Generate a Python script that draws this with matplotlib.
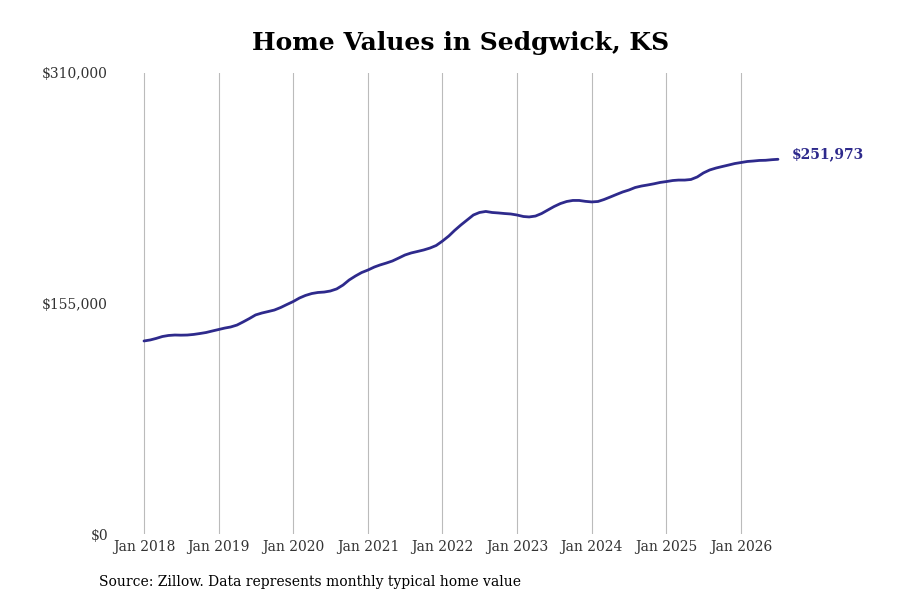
import pandas as pd
import matplotlib
matplotlib.use("Agg")
import matplotlib.pyplot as plt
import matplotlib.dates as mdates
from matplotlib.ticker import FuncFormatter

# monthly typical home value, Jan 2018 - Jul 2026
start_month = "2018-01-01"
home_values = [
    129800, 130500, 131500, 132800, 133500, 133800, 133700, 133800, 134200, 134800, 135500, 136500,
    137500, 138500, 139200, 140500, 142600, 144900, 147300, 148600, 149600, 150600, 152300, 154300,
    156300, 158700, 160400, 161700, 162400, 162700, 163400, 164800, 167400, 170800, 173500, 175800,
    177500, 179500, 180900, 182200, 183600, 185600, 187600, 189000, 190000, 191000, 192300, 194000,
    197000, 200400, 204100, 207800, 211100, 214500, 216200, 216900, 216200, 215900, 215500, 215200,
    214500, 213500, 213200, 213800, 215500, 217900, 220200, 222200, 223600, 224300, 224300, 223700,
    223300, 223600, 224900, 226600, 228300, 230000, 231300, 233000, 234000, 234700, 235500, 236400,
    237000, 237700, 238000, 238000, 238400, 240100, 242800, 244800, 246100, 247100, 248100, 249100,
    249800, 250500, 250800, 251200, 251300, 251700, 251973,
]
y_ticks = [0, 155000, 310000]
tick_years = list(range(2018, 2027))

dates = pd.date_range(start_month, periods=len(home_values), freq="MS")
line_color = "#2e2a8c"

plt.rcParams["font.family"] = ["DejaVu Serif"]

fig = plt.figure(figsize=(9, 6), dpi=100)
ax = fig.add_axes([115 / 900, 66 / 600, 675 / 900, 461 / 600])

ax.plot(dates, home_values, color=line_color, lw=2.0, solid_capstyle="round")

# x range so Jan 2018 sits at ~144px and Jan 2026 at ~741px
px_per_day = (741 - 144) / (pd.Timestamp("2026-01-01") - pd.Timestamp("2018-01-01")).days
x0 = pd.Timestamp("2018-01-01") - pd.Timedelta(days=(144 - 115) / px_per_day)
x1 = pd.Timestamp("2018-01-01") + pd.Timedelta(days=(790 - 144) / px_per_day)
ax.set_xlim(x0, x1)
ax.set_ylim(y_ticks[0], y_ticks[-1])

ax.set_xticks([pd.Timestamp(f"{y}-01-01") for y in tick_years])
ax.xaxis.set_major_formatter(mdates.DateFormatter("Jan %Y"))
ax.set_yticks(y_ticks)
ax.yaxis.set_major_formatter(FuncFormatter(lambda v, p: f"${v:,.0f}"))

ax.tick_params(axis="both", length=0, labelsize=10, labelcolor="#333333")
ax.tick_params(axis="x", pad=4)
ax.tick_params(axis="y", pad=5)
ax.grid(axis="x", color="#bbbbbb", lw=0.8)
ax.grid(axis="y", visible=False)
for s in ax.spines.values():
    s.set_visible(False)

ax.annotate(f"${home_values[-1]:,}", (dates[-1], home_values[-1]),
            xytext=(10, 4), textcoords="offset points", va="center", ha="left",
            fontsize=10, fontweight="bold", color=line_color, annotation_clip=False)

fig.text(461 / 900, 1 - 43 / 600, "Home Values in Sedgwick, KS", ha="center", va="center",
         fontsize=18, fontweight="bold", color="black")
fig.text(99 / 900, 1 - 582 / 600, "Source: Zillow. Data represents monthly typical home value",
         ha="left", va="center", fontsize=10, color="black")

fig.savefig("out.png", dpi=100)
